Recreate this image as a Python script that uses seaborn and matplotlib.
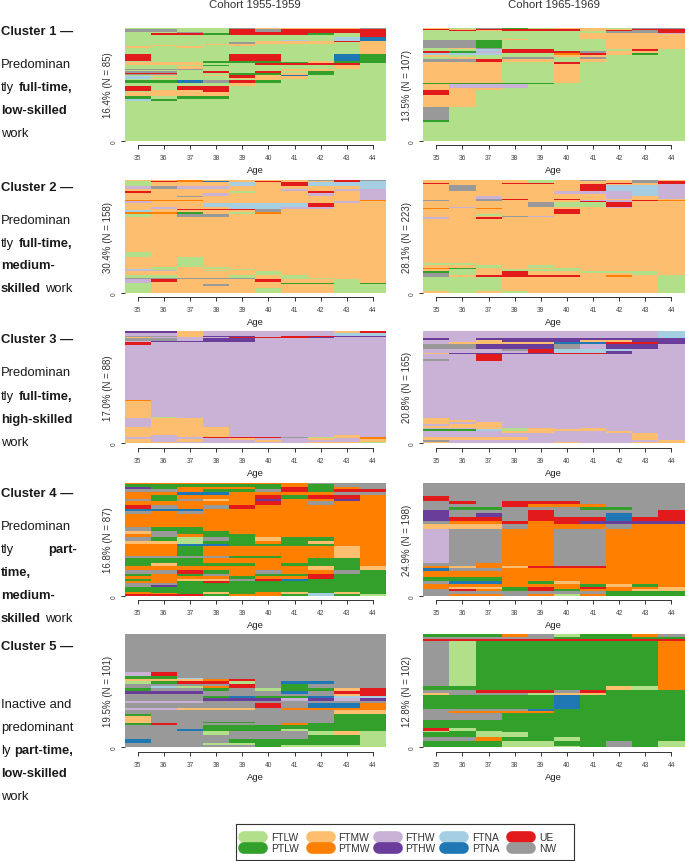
import numpy as np
import pandas as pd
import seaborn as sns
import matplotlib
matplotlib.use('Agg')
import matplotlib.pyplot as plt
from matplotlib.colors import ListedColormap

W, H = 685, 862

# state codes used in the rows below
state_codes = ['l', 'L', 'm', 'M', 'h', 'H', 'n', 'N', 'u', 'w']
state_names = ['FTLW', 'PTLW', 'FTMW', 'PTMW', 'FTHW', 'PTHW', 'FTNA', 'PTNA', 'UE', 'NW']
state_colors = ['#b2df8a', '#33a02c', '#fdbf6f', '#ff7f00', '#cab2d6',
                '#6a3d9a', '#a6cee3', '#1f78b4', '#e31a1c', '#999999']
ages = [35, 36, 37, 38, 39, 40, 41, 42, 43, 44]
cohorts = ['Cohort 1955-1959', 'Cohort 1965-1969']

# sequences, bottom to top: (number of people, state at each age)
c1_1955 = [(30, 'llllllllll'), (2, 'nLllllllll'), (2, 'LlLLllllll'), (3, 'mmmmllllll'),
           (1, 'lmmullllll'), (1, 'ummullllll'), (3, 'uluullllll'), (2, 'llllmlllll'),
           (2, 'LLNwuLllll'), (1, 'lllllmllll'), (1, 'nmllmmmlll'), (1, 'nlllummlll'),
           (1, 'lmlmumNlll'), (1, 'wwllLLmLll'), (1, 'uullLLmLll'), (1, 'wwlululLll'),
           (1, 'llllllmmll'), (1, 'wwwlllmmll'), (2, 'llmlllllml'), (1, 'lllLllllml'),
           (1, 'mmmlluuuul'), (1, 'mmmLLLLmLL'), (1, 'lllLLLlmLL'), (5, 'ullluullNL'),
           (5, 'lllllllllm'), (1, 'mlmllllllm'), (1, 'lmllmllllm'), (1, 'lllmmllllm'),
           (1, 'llllwmmmlm'), (1, 'lllllmmmum'), (1, 'llllllnlnN'), (2, 'llllllllnN'),
           (2, 'lllllllllu'), (1, 'luuLuuuLlu'), (1, 'llwluuuuuu'), (2, 'wwlluwuuuu'),
           (1, 'llllwmmmmw')]
c1_1965 = [(18, 'llllllllll'), (2, 'Llllllllll'), (12, 'wlllllllll'), (11, 'mmllllllll'),
           (5, 'umllllllll'), (2, 'mmmlllllll'), (4, 'mhhhllllll'), (1, 'LLLLLlllll'),
           (18, 'mmmllmllll'), (2, 'mmmllullll'), (3, 'wwummlmlll'), (1, 'lmlwwlwlll'),
           (2, 'mllllmmlll'), (2, 'nnnllMumLl'), (2, 'uLhuuuwmml'), (2, 'llnuulllul'),
           (1, 'lmwllllmmm'), (8, 'wwLllllmmm'), (1, 'lllmlllmmm'), (4, 'llllllmmmm'),
           (1, 'llllllmmmh'), (2, 'lllllllwwu'), (1, 'lumuuumuwu'), (1, 'umuuuummuu'),
           (1, 'mlwLlmmlww')]
c2_1955 = [(7, 'lmmmmlmmll'), (2, 'lmmmmmmmll'), (1, 'LLLLmmmmml'), (2, 'lmmwmmmmll'),
           (1, 'lmmmmmLLlL'), (2, 'hmmmmmmmlm'), (4, 'hummmummlm'), (2, 'wwwwwmllmm'),
           (4, 'llmmlmlmmm'), (5, 'mmmmmlmmmm'), (2, 'hhmlmmmmmm'), (2, 'nlmmlmmmmm'),
           (2, 'mlmlmmmmmm'), (15, 'mmlmmmmmmm'), (6, 'lmmmmmmmmm'), (50, 'mmmmmmmmmm'),
           (4, 'lmwwmmmmmm'), (3, 'MMLmlMmmmm'), (2, 'nmmmmwmmmm'), (2, 'mmuuuwmmmm'),
           (3, 'mhmmnnhhmm'), (5, 'mmmnnnnumm'), (3, 'hmmmmmmmhm'), (2, 'MMMmmmmmmM'),
           (4, 'mmmmmmmmmh'), (1, 'mmwmmmmmmh'), (5, 'mmmhmmmhmh'), (2, 'ummmlmmumh'),
           (4, 'mmmmmmhmhh'), (4, 'hwhhmmmmmn'), (5, 'lmmmnmunnn'), (1, 'luMNmummun'),
           (2, 'mmMmmmmwuw')]
c2_1965 = [(4, 'mlmlmmmmml'), (28, 'lllmmmmmml'), (3, 'wmuuuumMml'), (1, 'wluuuummmL'),
           (3, 'wlmummmmlm'), (4, 'Llmummlllm'), (3, 'mlmlllmmmm'), (2, 'MLmmmlmmmm'),
           (6, 'mmlmlmmmmm'), (4, 'llmmmmmmmm'), (88, 'mmmmmmmmmm'), (3, 'hmummmmmmm'),
           (3, 'mmmwhmmmmm'), (4, 'mmlmmmmmmm'), (9, 'mmmmmummmm'), (2, 'MmMmmmmmmm'),
           (3, 'mhmmmmmhmm'), (9, 'mmmmwllumm'), (3, 'mmmmmmuhmm'), (2, 'wmwmmmhhuM'),
           (2, 'mmwumummmm'), (5, 'mmhmmmmhmh'), (1, 'llmuNNNhnh'), (3, 'mmmmmmmhnh'),
           (7, 'mmmmmhhhnh'), (11, 'mwmmmmunnh'), (2, 'mmmmmmummh'), (3, 'ummuummumu'),
           (3, 'mmmmlmmmwu'), (2, 'mmmmlmwmwm')]
c3_1955 = [(1, 'mmhhhhhmml'), (1, 'mhmhhmhhhm'), (1, 'mhmhmhhmhm'), (1, 'hhhhmhhmhM'),
           (1, 'hhhuuuwlmM'), (1, 'mhmmhhhhmh'), (7, 'mmmmhhhhhh'), (7, 'hmmhhhhhhh'),
           (1, 'mlhhhhhhhh'), (12, 'mhhhhhhhhh'), (1, 'Mhhhhhhhhh'), (44, 'hhhhhhhhhh'),
           (2, 'uhhhhhhhhh'), (1, 'hHHHHhhhhh'), (2, 'wwhHHhhhhh'), (1, 'mhhhuuuHhh'),
           (1, 'wwmHHhuuHH'), (2, 'hhmhhhhhnn'), (2, 'HHmhhhhhmu')]
c3_1965 = [(2, 'mhhhhmhhmm'), (3, 'whhhhhhhhm'), (4, 'mmmmhhhhmh'), (5, 'hhhhhhhhmh'),
           (4, 'hhhmmhhmhh'), (2, 'LLnlmmmhhh'), (2, 'hhmlmhmhhh'), (3, 'mmmhhhhhhh'),
           (3, 'hmmhhhhhhh'), (3, 'mhmhhhhhhh'), (3, 'mmhhhhhhhh'), (2, 'mhhhhhhhhh'),
           (84, 'hhhhhhhhhh'), (2, 'whuhhhhhhh'), (8, 'hhuhhhhhhh'), (2, 'mHHHHuuHhh'),
           (2, 'hhhhunnHhh'), (4, 'hhhwunnnhh'), (6, 'wwHHHwhHHh'), (4, 'hmmmmNNuuH'),
           (2, 'hhmHHHmmHH'), (4, 'HhHHHHHHHH'), (9, 'hhhhhhhhhn'), (1, 'hhhhhhhhhu')]
c4_1955 = [(1, 'uuuLMMLnLl'), (1, 'MMLmLMmnmL'), (1, 'MLLmLMmLmL'), (1, 'LLLLLLLLLL'),
           (3, 'LLLLLLLLLL'), (1, 'wHLLLLLLLL'), (2, 'wwLLLLLLLL'), (1, 'MMLuLLLLLL'),
           (2, 'LMmmwuNLLL'), (2, 'MMMMLMMuLL'), (2, 'LMLwMLLuLL'), (3, 'wwuLMwMMwL'),
           (3, 'MMMMMMMmLm'), (2, 'LmLLLMLLLM'), (4, 'LLLMMMMLLM'), (2, 'wwwwLLMMmM'),
           (7, 'MMLMMMMMmM'), (2, 'MMNNLLLLMM'), (2, 'mmlLLMLmMM'), (3, 'wLlwLmLLMM'),
           (3, 'MwMLLMMMMM'), (2, 'mwLLMMMMMM'), (3, 'wLLMMMMMMM'), (10, 'MMMMMMMMMM'),
           (2, 'wMwMMMMMMM'), (2, 'NNNMMMMMMM'), (3, 'uwMwuMMMMM'), (3, 'MMMMMuMwMM'),
           (2, 'wLwmMHMMHM'), (3, 'MLMMMuLuuM'), (2, 'MMNNMMMMww'), (2, 'wwMLLwuLuu'),
           (2, 'HLMMMLuLMw'), (2, 'LLLLLLMLww'), (1, 'MMMMMMMwww')]
c4_1965 = [(3, 'wMMwMlMLLL'), (5, 'wwwwwwwLLL'), (4, 'wuMLuLMMmm'), (4, 'MmmLuMuMMm'),
           (5, 'MMMMMMLmLM'), (5, 'wNNMLmMMMM'), (6, 'LLLMMMMMMM'), (12, 'MMMMMMMMMM'),
           (5, 'NwwMMMMMMM'), (4, 'MmMmuuuMMM'), (4, 'wwMMMwwMMM'), (60, 'hwwMMwwMMM'),
           (9, 'mmmwMMMwMM'), (6, 'wMMuMuHHHH'), (7, 'HuuwuuuNuu'), (6, 'HwHwuwwNwu'),
           (6, 'Hwwwuwwwwu'), (5, 'wLLwwwLLww'), (5, 'wwwuMMMwww'), (5, 'wuwuuuwwww'),
           (9, 'uwwwwwwwww'), (23, 'wwwwwwwwww')]
c5_1955 = [(2, 'wwwwwLllll'), (2, 'wwwllLLLLl'), (3, 'NwwwLLLLLl'), (4, 'wwwwwwwLLl'),
           (4, 'wwwlwwwlml'), (1, 'wwNLLLlLLL'), (4, 'wwwLLLLLLL'), (2, 'LuwwwwMLLL'),
           (1, 'mwwLLwwwLL'), (5, 'mwwwwwwwLL'), (2, 'LwwwwwwwLL'), (3, 'wwwwwwwwmm'),
           (2, 'hhmmmwMMMM'), (5, 'wwwwwuwNNM'), (1, 'hhhwwwwwww'), (3, 'wwwHHHhHhH'),
           (2, 'wwwLNLLNnn'), (2, 'wwwwwwwwmu'), (2, 'HHHwwwNwuu'), (3, 'LwwLwlLLmu'),
           (2, 'wnlMuwLwww'), (2, 'wwwwuwLwww'), (2, 'lLuulwNNww'), (2, 'mmmMuwwwww'),
           (1, 'LLnwwwwwww'), (2, 'LLwwwwwwww'), (3, 'huwwwwwwww'), (34, 'wwwwwwwwww')]
c5_1965 = [(1, 'LLLlllLwLl'), (5, 'LLLllLLwLl'), (3, 'wwMLLlLLLL'), (5, 'LLllLLLLLL'),
           (1, 'lLlLLLLLLL'), (2, 'ulLLLLLLLL'), (8, 'LLLLLLLLLL'), (6, 'wwwLLLLLLL'),
           (2, 'wMMMMLLLLL'), (2, 'wwwwNLLLLL'), (12, 'LLLLLNLLLL'), (2, 'mwwwlmmLLL'),
           (3, 'wwuuuwuLLL'), (3, 'LLLLLLLmlM'), (41, 'wlLLLLLLLM'), (2, 'uuuuuuuuuu'),
           (2, 'wwwwwLLLLL'), (2, 'LLLMwlLLMw')]

panels = [[c1_1955, c1_1965], [c2_1955, c2_1965], [c3_1955, c3_1965],
          [c4_1955, c4_1965], [c5_1955, c5_1965]]
y_labels = [['16.4% (N = 85)', '13.5% (N = 107)'], ['30.4% (N = 158)', '28.1% (N = 223)'],
            ['17.0% (N = 88)', '20.8% (N = 165)'], ['16.8% (N = 87)', '24.9% (N = 198)'],
            ['19.5% (N = 101)', '12.8% (N = 102)']]

# left-hand captions: y, x, text, weight
captions = [
    (32, 1, 'Cluster 1 —', 'bold'), (65, 1, 'Predominan', 'normal'), (88, 1, 'tly', 'normal'),
    (88, 19, 'full-time,', 'bold'), (111, 1, 'low-skilled', 'bold'), (134, 1, 'work', 'normal'),
    (188, 1, 'Cluster 2 —', 'bold'), (221, 1, 'Predominan', 'normal'), (244, 1, 'tly', 'normal'),
    (244, 19, 'full-time,', 'bold'), (266, 1, 'medium-', 'bold'), (289, 1, 'skilled', 'bold'),
    (289, 45, 'work', 'normal'),
    (340, 1, 'Cluster 3 —', 'bold'), (373, 1, 'Predominan', 'normal'), (397, 1, 'tly', 'normal'),
    (397, 19, 'full-time,', 'bold'), (420, 1, 'high-skilled', 'bold'), (443, 1, 'work', 'normal'),
    (494, 1, 'Cluster 4 —', 'bold'), (527, 1, 'Predominan', 'normal'), (550, 1, 'tly', 'normal'),
    (550, 48, 'part-', 'bold'), (573, 1, 'time,', 'bold'), (596, 1, 'medium-', 'bold'),
    (619, 1, 'skilled', 'bold'), (619, 45, 'work', 'normal'),
    (647, 1, 'Cluster 5 —', 'bold'), (705, 1, 'Inactive and', 'normal'), (728, 1, 'predominant', 'normal'),
    (751, 1, 'ly', 'normal'), (751, 14, 'part-time,', 'bold'), (774, 1, 'low-skilled', 'bold'),
    (797, 1, 'work', 'normal'),
]

sns.set_style('white')
plt.rcParams['font.family'] = ['Liberation Sans', 'DejaVu Sans']

fig = plt.figure(figsize=(W / 100, H / 100), dpi=100)
cmap = ListedColormap(state_colors)

col_x = [(124.7, 386.0), (423.3, 684.5)]
row_y = [(29, 141.7), (181, 293.7), (331.7, 444), (484, 596.7), (635.3, 748.3)]


def px_axes(x0, y0, x1, y1):
    return fig.add_axes([x0 / W, 1 - y1 / H, (x1 - x0) / W, (y1 - y0) / H])


def draw_panel(ax, rows, label):
    seqs = [[state_codes.index(c) for c in seq] for n, seq in rows for _ in range(n)]
    df = pd.DataFrame(seqs, columns=ages)
    sns.heatmap(df, ax=ax, cmap=cmap, vmin=-0.5, vmax=9.5, cbar=False, yticklabels=False)
    ax.set_ylim(0, len(df))
    ax.set_yticks([0])
    ax.set_yticklabels(['0'], rotation=90, va='center', fontsize=4.8, color='#444444')
    ax.spines['bottom'].set_visible(True)
    ax.spines['bottom'].set_position(('outward', 3.3))
    ax.spines['bottom'].set_bounds(0.5, 9.5)
    ax.spines['bottom'].set_color('#333333')
    ax.spines['bottom'].set_linewidth(0.7)
    ax.tick_params(axis='x', bottom=True, length=3, width=0.7, color='#333333',
                   labelsize=4.8, labelcolor='#444444', pad=3.5, rotation=0)
    ax.tick_params(axis='y', left=True, length=2.8, width=0.7, color='#333333', pad=2.5)
    ax.set_xlabel('Age', fontsize=6.8, color='#222222', labelpad=3)
    ax.set_ylabel(label, fontsize=7, color='#333333')
    ax.yaxis.set_label_coords(-0.043, 0.5)


for r, (y0, y1) in enumerate(row_y):
    for c, (x0, x1) in enumerate(col_x):
        ax = px_axes(x0, y0, x1, y1)
        draw_panel(ax, panels[r][c], y_labels[r][c])

for c, (x0, x1) in enumerate(col_x):
    fig.text((x0 + x1) / 2 / W, 1 - 5 / H, cohorts[c], ha='center', va='center',
             fontsize=8.2, color='#333333')

for y, x, txt, weight in captions:
    fig.text(x / W, 1 - y / H, txt, ha='left', va='center', fontsize=9.4,
             fontweight=weight, color='#1a1a1a')

# legend box with pill keys
leg = px_axes(235.7, 825, 574, 861)
leg.set_xlim(235.7, 574)
leg.set_ylim(861, 825)
leg.set_xticks([])
leg.set_yticks([])
for s in leg.spines.values():
    s.set_visible(True)
    s.set_color('#333333')
    s.set_linewidth(0.8)
key_x = [238, 306, 373, 439, 506]
text_x = [271, 338, 405, 472, 539]
key_y = [838, 849]
for i, (name, color) in enumerate(zip(state_names, state_colors)):
    col, row = i // 2, i % 2
    leg.plot([key_x[col] + 6, key_x[col] + 24], [key_y[row], key_y[row]], color=color,
             lw=8.4, solid_capstyle='round')
    leg.text(text_x[col], key_y[row], name, va='center', ha='left', fontsize=7.4, color='#333333')

fig.savefig('out.png', dpi=100)
